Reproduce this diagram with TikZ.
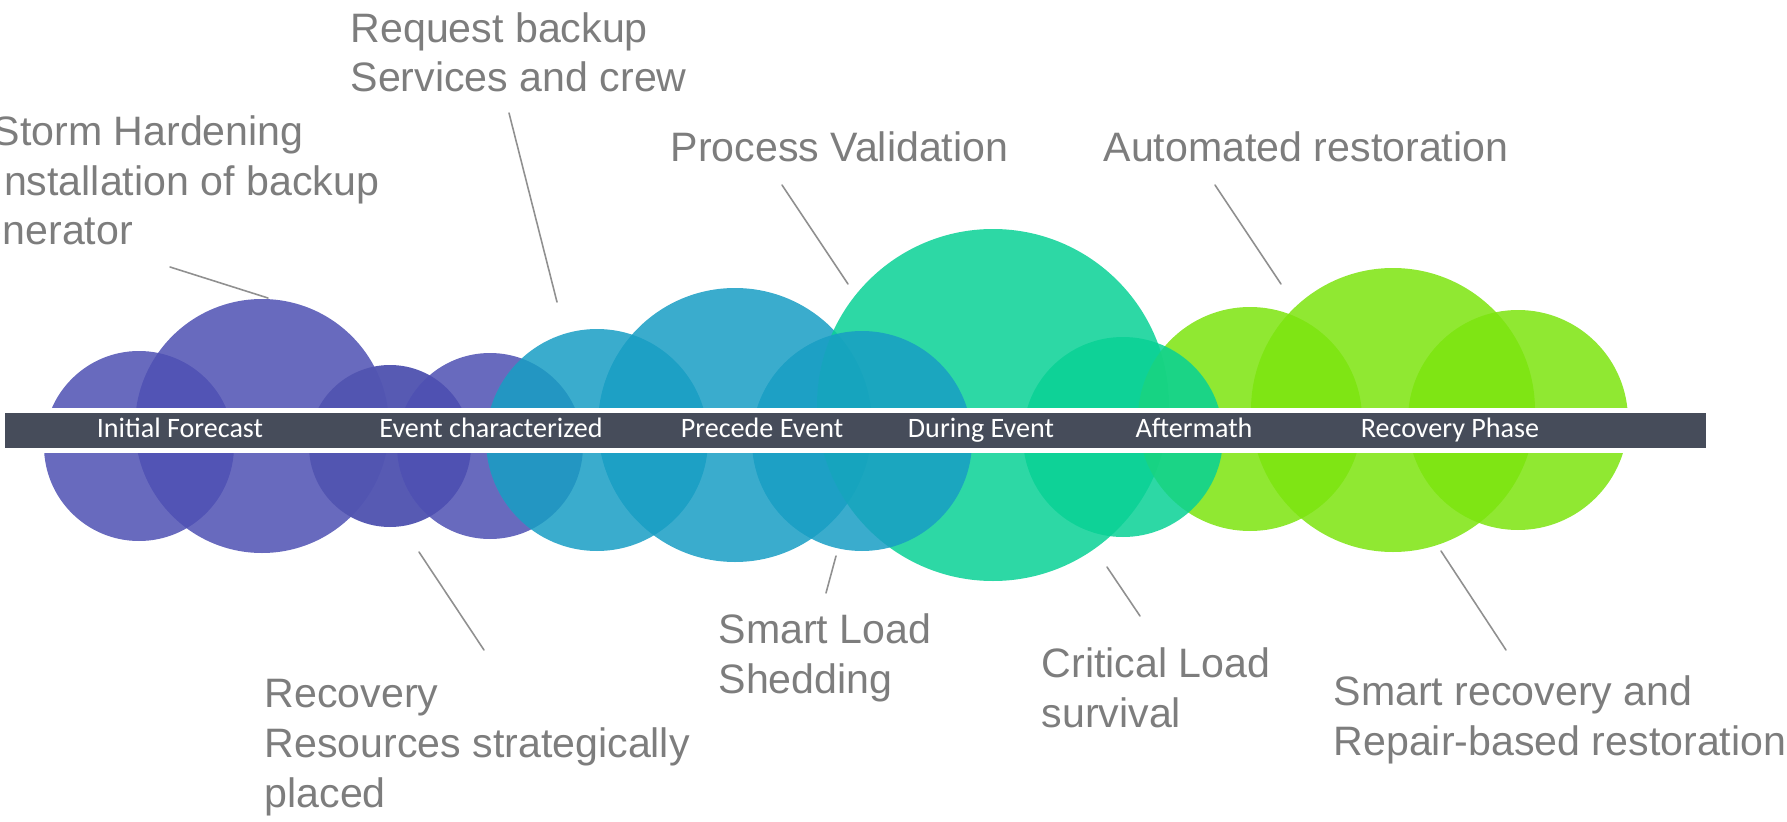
\documentclass[tikz,border=0pt]{standalone}
\usepackage{fontspec}
\setmainfont{Liberation Sans}
\newfontfamily\barfont{Carlito}
\definecolor{lilac}{RGB}{78,80,179}
\definecolor{lilacdark}{RGB}{82,85,177}
\definecolor{sea}{RGB}{24,158,196}
\definecolor{mint}{RGB}{8,209,149}
\definecolor{lime}{RGB}{124,228,14}
\definecolor{slate}{RGB}{70,76,90}
\definecolor{notegray}{RGB}{125,125,125}
\begin{document}
\begin{tikzpicture}[x=0.1mm,y=-0.1mm,line cap=round,line join=round]
	\useasboundingbox (0,0) rectangle (1787,822);
	\clip (0,0) rectangle (1787,822);
	\tikzset{blob/.style={fill=#1,fill opacity=0.85},
		note/.style={text=notegray,font=\fontsize{11.7}{14.2}\selectfont,align=left,anchor=base west,inner sep=0pt},
		phase/.style={text=white,font=\barfont\fontsize{8}{9.6}\selectfont,anchor=base,inner sep=0pt},
		leader/.style={draw=notegray!85,line width=0.45pt}}
	% bubbles along the time line
	\foreach \x/\y/\r/\c/\o in {139/446/95/lilac/.85,262/426/127/lilac/.85,390/446/81/lilacdark/.97,490/446/93/lilac/.85,
		597/440/111/sea/.85,735/425/137/sea/.85,993/405/176/mint/.85,862/441/110/sea/.85,
		1250/419/112/lime/.85,1393/410/142/lime/.85,1518/420/110/lime/.85,1123/437/100/mint/.85}
		{\fill[blob=\c,fill opacity=\o] (\x,\y) circle (\r);}
	% time line
	\fill[white] (5,408) rectangle (1706,453);
	\fill[slate] (5,413) rectangle (1706,448);
	\foreach \x/\t [count=\i] in {180/Initial Forecast,491/Event characterized,762/Precede Event,
		981/During Event,1194/Aftermath,1450/Recovery Phase}
		{\node[phase] (phase\i) at (\x,437) {\t};}
	% notes (base = last line)
	\node[note] (storm) at (-8,245) {Storm Hardening\\Installation of backup\\\hspace*{-0.87em}generator};
	\node[note] (backup) at (350,92) {Request backup\\Services and crew};
	\node[note] (validation) at (670,161) {Process Validation};
	\node[note] (automated) at (1103,161) {Automated restoration};
	\node[note] (resources) at (264,807) {Recovery\\Resources strategically\\placed};
	\node[note] (shedding) at (718,693) {Smart Load\\Shedding};
	\node[note] (critical) at (1041,727) {Critical Load\\survival};
	\node[note] (repair) at (1333,755) {Smart recovery and\\Repair-based restoration};
	\foreach \n/\p/\q in {storm/{170,267}/{268,298},backup/{509,113}/{557,302},validation/{782,185}/{848,284},
		automated/{1215,185}/{1281,284},resources/{419,552}/{484,650},shedding/{836,556}/{826,593},
		critical/{1107,567}/{1140,616},repair/{1441,551}/{1506,650}}
		{\coordinate (\n-a) at (\p); \coordinate (\n-b) at (\q); \draw[leader] (\n-a) -- (\n-b);}
\end{tikzpicture}
\end{document}
